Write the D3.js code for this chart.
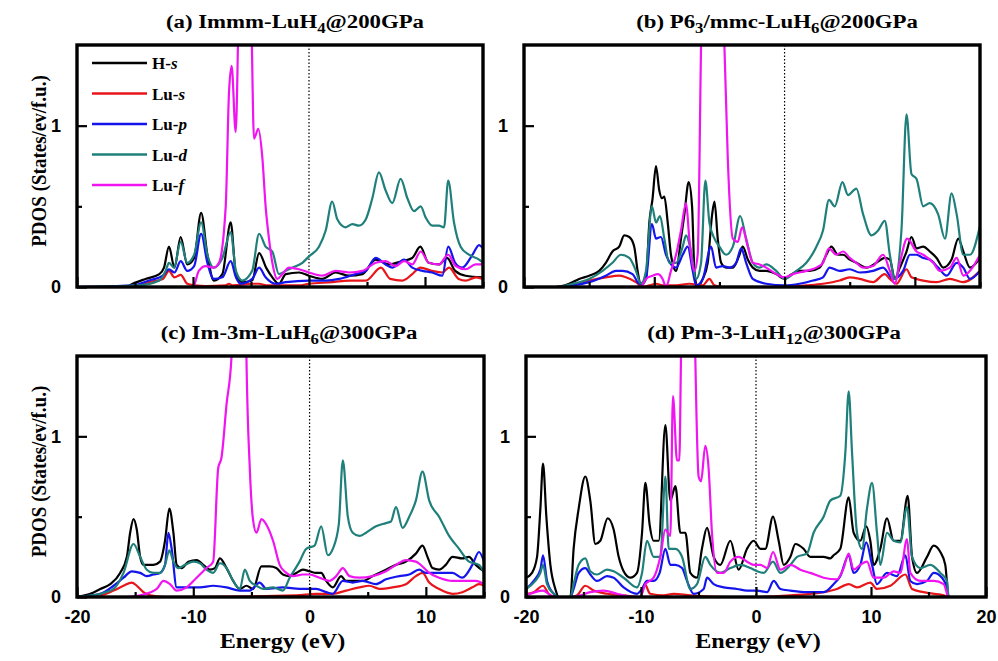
<!DOCTYPE html>
<meta charset="utf-8">
<style>

body
{
  margin: 0;
  background: #fff;
}

.frame
{
  fill: none;
  stroke: #000;
  stroke-width: 3.4px;
}

.curve
{
  fill: none;
  stroke-width: 2.2px;
  stroke-linejoin: round;
}

.fermi
{
  stroke: #000;
  stroke-width: 1.2px;
  stroke-dasharray: 1.5,2;
}

.serif
{
  font-family: "Liberation Serif", "Times New Roman", serif;
  font-weight: bold;
}

</style>
<svg width="998" height="661"></svg>
<script src="https://cdn.jsdelivr.net/npm/d3@7/dist/d3.min.js"></script>
<script>

// orbitals and their colours
var orbitals = ["H", "Lu", "Lu", "Lu", "Lu"];
var shells = ["s", "s", "p", "d", "f"];
var colors = ["#000000", "#e8161a", "#1414ec", "#1f7f7b", "#f014f0"];

var yTicks = [0, 0.5, 1];
var yLabels = ["0", "", "1"];

// (a) Immm-LuH4 @ 200 GPa  [energy eV, PDOS]
var aHs = [[-20,0],[-15.8,0],[-15.2,0.02],[-14.1,0.05],[-12.9,0.08],[-12.5,0.12],[-12.07,0.25],[-11.6,0.12],[-11.06,0.31],[-10.5,0.14],[-9.9,0.18],[-9.3,0.46],[-8.76,0.2],[-8.2,0.04],[-7.47,0.08],[-6.75,0.40],[-6.3,0.08],[-5.75,0.03],[-4.9,0.04],[-4.3,0.21],[-3.7,0.12],[-3.16,0.06],[-2.6,0.02],[-2.0,0.08],[-0.86,0.09],[0,0.07],[1.15,0.05],[2.3,0.09],[3.45,0.07],[4.6,0.08],[5.75,0.17],[6.9,0.14],[8.0,0.16],[8.9,0.18],[9.6,0.25],[10.3,0.15],[11.2,0.14],[11.9,0.18],[12.6,0.1],[13.5,0.07],[15,0.06]];
var aLus = [[-20,0],[-15.2,0],[-13.8,0.03],[-12.6,0.05],[-12.07,0.1],[-11.6,0.06],[-11.06,0.075],[-10.5,0.02],[-9.8,0.01],[-8.9,0.005],[-7.2,0.01],[-6.9,0.02],[-6.6,0.01],[-4.9,0.02],[-4.3,0.02],[-3.7,0.01],[-0.9,0.01],[0,0.02],[2.0,0.03],[3.45,0.04],[4.9,0.04],[6.2,0.12],[7.0,0.05],[8.05,0.04],[8.9,0.08],[9.6,0.12],[10.6,0.1],[11.5,0.09],[12.07,0.12],[12.9,0.05],[13.5,0.04],[14.4,0.06],[15,0.05]];
var aLup = [[-20,0],[-15.2,0.01],[-13.8,0.04],[-12.6,0.07],[-12.07,0.11],[-11.6,0.09],[-11.06,0.16],[-10.5,0.1],[-9.9,0.13],[-9.3,0.33],[-8.76,0.15],[-8.2,0.05],[-7.47,0.06],[-6.75,0.16],[-6.3,0.06],[-5.9,0.02],[-4.9,0.05],[-4.3,0.12],[-3.74,0.06],[-2.87,0.02],[-2.0,0.03],[0,0.04],[1.44,0.04],[2.6,0.05],[4.0,0.08],[4.9,0.1],[5.75,0.18],[6.6,0.14],[7.2,0.12],[8.2,0.17],[8.9,0.12],[9.8,0.1],[10.6,0.09],[11.5,0.07],[12.0,0.25],[12.6,0.15],[13.2,0.12],[14.1,0.2],[14.66,0.26],[15,0.24]];
var aLud = [[-20,0],[-14.7,0.01],[-12.9,0.04],[-12.36,0.1],[-12.07,0.15],[-11.64,0.12],[-11.06,0.28],[-10.5,0.15],[-9.9,0.2],[-9.3,0.40],[-8.76,0.2],[-8.2,0.12],[-7.47,0.18],[-6.75,0.34],[-6.3,0.1],[-5.75,0.04],[-4.9,0.1],[-4.3,0.33],[-3.74,0.25],[-3.16,0.22],[-2.6,0.08],[-2.0,0.1],[-1.44,0.12],[-0.57,0.15],[0,0.19],[0.86,0.25],[1.44,0.35],[2.0,0.53],[2.44,0.42],[3.16,0.37],[3.74,0.39],[4.3,0.38],[4.9,0.42],[5.46,0.55],[6.03,0.71],[6.6,0.6],[7.18,0.52],[7.9,0.67],[8.48,0.55],[9.05,0.47],[9.63,0.5],[10.06,0.43],[10.63,0.38],[11.2,0.38],[11.64,0.37],[12.0,0.66],[12.5,0.4],[13.07,0.25],[13.79,0.2],[14.66,0.17],[15,0.15]];
var aLuf = [[-20,0],[-10.0,0],[-9.5,0.1],[-8.9,0.13],[-8.2,0.12],[-7.76,0.15],[-7.18,0.5],[-6.9,1.2],[-6.67,1.37],[-6.32,0.96],[-6.1,1.6],[-5.9,2.5],[-5.2,2.5],[-4.95,1.6],[-4.74,0.92],[-4.37,0.98],[-4.02,0.8],[-3.74,0.5],[-3.45,0.3],[-3.16,0.15],[-2.73,0.05],[-2.3,0.08],[-1.72,0.12],[-0.86,0.11],[0,0.09],[1.15,0.07],[2.3,0.1],[3.45,0.09],[4.6,0.1],[5.75,0.15],[6.6,0.16],[7.47,0.13],[8.19,0.16],[8.9,0.14],[9.63,0.22],[10.34,0.15],[11.2,0.14],[12.0,0.2],[12.64,0.13],[13.5,0.11],[14.37,0.14],[15,0.14]];

// (b) P63/mmc-LuH6 @ 200 GPa
var bHs = [[-20,0],[-17.56,0],[-16.54,0.02],[-15.77,0.05],[-15.0,0.07],[-14.23,0.1],[-13.72,0.15],[-13.21,0.22],[-12.69,0.25],[-12.31,0.32],[-11.92,0.31],[-11.54,0.25],[-11.28,0.1],[-11.03,0.01],[-10.64,0.05],[-10.38,0.4],[-10.13,0.55],[-9.87,0.75],[-9.62,0.6],[-9.41,0.55],[-9.23,0.56],[-8.97,0.4],[-8.72,0.2],[-8.33,0.1],[-7.95,0.3],[-7.69,0.45],[-7.36,0.65],[-7.1,0.5],[-6.92,0.1],[-6.67,0],[-6.28,0.05],[-5.9,0.15],[-5.56,0.45],[-5.38,0.53],[-5.13,0.3],[-4.87,0.15],[-4.49,0.12],[-3.97,0.12],[-3.46,0.2],[-3.21,0.25],[-2.82,0.17],[-2.44,0.12],[-1.92,0.1],[-1.41,0.1],[-0.64,0.08],[0,0.05],[0.38,0.07],[1.15,0.1],[1.92,0.1],[2.69,0.12],[3.21,0.2],[3.59,0.25],[4.1,0.2],[4.49,0.2],[5.0,0.17],[5.51,0.15],[6.28,0.12],[7.05,0.15],[7.69,0.18],[8.08,0.17],[8.46,0.05],[8.85,0.12],[9.36,0.22],[9.74,0.31],[10.13,0.24],[10.64,0.25],[11.15,0.22],[11.67,0.18],[12.18,0.12],[12.82,0.17],[13.33,0.3],[13.72,0.22],[14.23,0.12],[15,0.18]];
var bLus = [[-20,0],[-17.56,0],[-16.28,0.01],[-15.0,0.04],[-13.72,0.06],[-12.69,0.07],[-12.18,0.06],[-11.41,0.03],[-10.9,0],[-10.38,0.01],[-9.87,0.02],[-9.36,0.01],[-8.33,0.01],[-7.31,0.02],[-6.28,0.01],[-5.77,0.05],[-5.38,0.01],[-4.74,0],[0,0],[1.67,0.01],[2.95,0.02],[4.23,0.04],[5.0,0.06],[5.77,0.05],[6.79,0.03],[7.69,0.08],[8.08,0.05],[8.59,0.02],[9.36,0.11],[9.74,0.06],[10.64,0.04],[11.67,0.03],[12.69,0.05],[13.72,0.03],[15,0.1]];
var bLup = [[-20,0],[-17.56,0],[-16.28,0.01],[-15.0,0.03],[-13.72,0.07],[-12.95,0.1],[-12.44,0.1],[-11.67,0.08],[-11.15,0.02],[-10.64,0.05],[-10.18,0.39],[-9.87,0.3],[-9.49,0.31],[-9.1,0.2],[-8.33,0.12],[-7.82,0.2],[-7.44,0.25],[-7.05,0.1],[-6.79,0.01],[-6.28,0.05],[-5.64,0.25],[-5.26,0.12],[-4.74,0.13],[-4.23,0.12],[-3.72,0.15],[-3.33,0.24],[-2.95,0.15],[-2.44,0.05],[-1.41,0.02],[0,0.01],[1.15,0.02],[2.18,0.04],[2.95,0.06],[3.46,0.12],[4.23,0.1],[5.0,0.11],[5.77,0.09],[6.79,0.1],[7.56,0.12],[8.33,0.05],[9.1,0.1],[9.62,0.2],[10.13,0.2],[10.64,0.18],[11.15,0.17],[11.79,0.12],[12.44,0.07],[13.21,0.15],[13.72,0.12],[14.23,0.05],[15,0.1]];
var bLud = [[-20,0],[-17.56,0],[-16.28,0.02],[-15.0,0.05],[-13.97,0.1],[-13.21,0.15],[-12.56,0.2],[-11.92,0.18],[-11.41,0.1],[-11.03,0.02],[-10.64,0.1],[-10.18,0.5],[-9.87,0.4],[-9.56,0.44],[-9.23,0.3],[-8.85,0.15],[-8.33,0.15],[-7.82,0.25],[-7.56,0.32],[-7.18,0.22],[-6.79,0.05],[-6.41,0.15],[-6.08,0.66],[-5.77,0.4],[-5.38,0.3],[-5.0,0.25],[-4.49,0.2],[-3.97,0.25],[-3.41,0.44],[-2.95,0.3],[-2.44,0.15],[-1.92,0.12],[-1.41,0.14],[-0.64,0.1],[0,0.05],[0.9,0.1],[1.67,0.15],[2.44,0.25],[2.95,0.35],[3.41,0.54],[3.85,0.5],[4.44,0.65],[4.87,0.57],[5.51,0.61],[6.03,0.45],[6.67,0.32],[7.18,0.35],[7.69,0.41],[8.08,0.2],[8.46,0.05],[8.97,0.35],[9.36,1.07],[9.74,0.7],[10.13,0.67],[10.64,0.5],[11.15,0.52],[11.79,0.45],[12.31,0.3],[12.82,0.58],[13.21,0.45],[13.72,0.2],[14.23,0.2],[15,0.38]];
var bLuf = [[-20,0],[-11.03,0],[-10.64,0.05],[-10.13,0.07],[-9.74,0.08],[-9.36,0.05],[-9.1,0],[-8.72,0.1],[-8.33,0.2],[-7.95,0.35],[-7.56,0.52],[-7.31,0.3],[-6.92,0.1],[-6.67,0.2],[-6.41,1.5],[-6.2,2.5],[-4.9,2.5],[-4.62,1.5],[-4.36,0.8],[-3.97,0.3],[-3.59,0.28],[-3.26,0.37],[-2.82,0.25],[-2.44,0.15],[-1.92,0.14],[-1.41,0.12],[-0.64,0.08],[0,0.06],[0.64,0.08],[1.67,0.1],[2.44,0.12],[2.95,0.15],[3.41,0.24],[3.97,0.2],[4.49,0.22],[5.0,0.18],[5.51,0.15],[6.03,0.12],[6.79,0.13],[7.56,0.2],[8.08,0.1],[8.46,0.02],[8.85,0.15],[9.41,0.3],[10.13,0.22],[10.64,0.2],[11.41,0.15],[11.92,0.1],[12.69,0.12],[13.21,0.18],[13.72,0.07],[14.23,0.1],[15,0.2]];

// (c) Im-3m-LuH6 @ 300 GPa
var cHs = [[-20,0],[-18.86,0.02],[-18.0,0.05],[-17.14,0.08],[-16.29,0.15],[-15.71,0.25],[-15.43,0.4],[-15.14,0.485],[-14.86,0.42],[-14.57,0.25],[-14.29,0.2],[-13.43,0.2],[-12.86,0.22],[-12.43,0.35],[-12.06,0.55],[-11.71,0.4],[-11.43,0.2],[-11.0,0.18],[-10.43,0.22],[-9.71,0.23],[-9.14,0.2],[-8.57,0.17],[-8.14,0.18],[-7.71,0.24],[-7.14,0.18],[-6.57,0.1],[-6.0,0.05],[-5.43,0.07],[-4.86,0.05],[-4.14,0.19],[-3.43,0.19],[-2.86,0.18],[-2.29,0.14],[-1.71,0.13],[-1.14,0.15],[-0.57,0.17],[0,0.16],[0.57,0.15],[1.0,0.15],[1.43,0.1],[2.0,0.06],[2.71,0.13],[3.14,0.1],[3.71,0.1],[4.57,0.1],[5.43,0.13],[6.57,0.17],[7.43,0.2],[8.29,0.22],[9.14,0.27],[9.71,0.32],[10.14,0.25],[10.57,0.18],[11.14,0.17],[11.71,0.2],[12.29,0.25],[13.14,0.24],[13.71,0.25],[14.29,0.2],[15,0.16]];
var cLus = [[-20,0],[-18.0,0.01],[-16.86,0.04],[-16.0,0.07],[-15.29,0.09],[-14.86,0.07],[-14.29,0.03],[-13.71,0.01],[-12.29,0],[-1.14,0.01],[0.57,0.02],[2.0,0.02],[3.14,0.04],[4.29,0.06],[5.14,0.07],[6.0,0.05],[7.14,0.06],[8.29,0.08],[9.14,0.13],[9.71,0.15],[10.29,0.09],[11.14,0.05],[12.29,0.02],[13.14,0.03],[14.0,0.06],[14.57,0.08],[15,0.07]];
var cLup = [[-20,0],[-18.0,0.02],[-16.86,0.07],[-16.0,0.12],[-15.29,0.16],[-14.57,0.15],[-14.0,0.13],[-13.43,0.14],[-12.86,0.15],[-12.43,0.2],[-12.14,0.4],[-11.86,0.3],[-11.43,0.06],[-10.57,0.06],[-9.43,0.06],[-8.29,0.07],[-7.14,0.06],[-6.0,0.04],[-5.14,0.04],[-4.29,0.09],[-3.71,0.05],[-2.29,0.06],[-0.86,0.05],[0.57,0.05],[1.43,0.03],[2.0,0.02],[2.86,0.1],[3.71,0.09],[4.57,0.1],[5.71,0.08],[6.57,0.11],[7.71,0.13],[8.57,0.14],[9.43,0.17],[10.0,0.15],[10.57,0.15],[11.43,0.15],[12.29,0.15],[13.14,0.12],[14.0,0.2],[14.57,0.28],[15,0.22]];
var cLud = [[-20,0],[-18.0,0.02],[-16.86,0.05],[-16.0,0.15],[-15.14,0.33],[-14.57,0.25],[-14.0,0.17],[-13.43,0.15],[-12.86,0.15],[-12.43,0.2],[-12.06,0.29],[-11.71,0.22],[-11.29,0.18],[-10.71,0.2],[-10.0,0.22],[-9.43,0.21],[-8.86,0.17],[-8.29,0.15],[-7.71,0.21],[-7.14,0.18],[-6.57,0.1],[-6.0,0.05],[-5.57,0.17],[-5.14,0.1],[-4.57,0.07],[-4.0,0.05],[-3.14,0.06],[-2.29,0.04],[-1.71,0.12],[-0.86,0.22],[-0.29,0.3],[0.43,0.32],[1.0,0.44],[1.57,0.26],[2.0,0.3],[2.51,0.45],[2.86,0.85],[3.29,0.5],[3.71,0.4],[4.29,0.38],[4.86,0.4],[5.71,0.44],[6.57,0.46],[7.0,0.47],[7.43,0.56],[8.0,0.43],[8.57,0.5],[9.14,0.6],[9.71,0.78],[10.29,0.6],[11.14,0.5],[12.0,0.38],[12.86,0.3],[13.71,0.22],[14.57,0.2],[15,0.15]];
var cLuf = [[-20,0],[-15.71,0],[-14.57,0.01],[-13.14,0.05],[-12.57,0.1],[-12.0,0.08],[-11.43,0.04],[-10.57,0.06],[-9.71,0.12],[-8.86,0.18],[-8.29,0.22],[-7.86,0.8],[-7.57,0.87],[-7.14,1.2],[-6.71,1.5],[-6.5,2.5],[-5.6,2.5],[-5.43,1.5],[-5.14,0.8],[-4.86,0.48],[-4.57,0.4],[-4.14,0.485],[-3.71,0.45],[-3.14,0.35],[-2.57,0.2],[-2.0,0.15],[-1.43,0.13],[-0.57,0.14],[0,0.14],[0.86,0.12],[1.71,0.1],[2.29,0.13],[2.86,0.18],[3.43,0.13],[4.29,0.12],[5.43,0.13],[6.57,0.16],[7.43,0.2],[8.29,0.23],[9.14,0.22],[9.71,0.19],[10.29,0.15],[11.14,0.12],[12.29,0.1],[13.43,0.1],[14.29,0.1],[15,0.08]];

// (d) Pm-3-LuH12 @ 300 GPa
var dHs = [[-20,0.12],[-19.48,0.15],[-19.04,0.25],[-18.75,0.55],[-18.52,0.83],[-18.23,0.5],[-17.88,0.2],[-17.45,0.05],[-17.16,0],[-16.14,0],[-15.86,0.3],[-15.42,0.55],[-14.84,0.75],[-14.41,0.6],[-13.97,0.33],[-13.54,0.35],[-12.9,0.49],[-12.38,0.42],[-11.94,0.25],[-11.51,0.16],[-10.93,0.12],[-10.35,0.15],[-9.91,0.4],[-9.62,0.71],[-9.25,0.45],[-8.9,0.35],[-8.46,0.35],[-7.88,1.07],[-7.45,0.6],[-7.01,0.69],[-6.58,0.4],[-6.14,0.4],[-5.71,0.15],[-5.13,0.12],[-4.7,0.3],[-4.26,0.43],[-3.68,0.25],[-3.1,0.2],[-2.23,0.35],[-1.51,0.17],[-0.78,0.3],[-0.2,0.35],[0.38,0.3],[0.81,0.3],[1.48,0.5],[1.97,0.35],[2.41,0.2],[2.99,0.25],[3.42,0.33],[4.14,0.3],[4.72,0.25],[5.88,0.25],[6.46,0.24],[6.75,0.26],[7.33,0.3],[8.06,0.62],[8.49,0.4],[9.07,0.35],[9.59,0.44],[9.94,0.35],[10.23,0.2],[10.81,0.3],[11.39,0.49],[11.97,0.35],[12.55,0.35],[13.19,0.63],[13.57,0.25],[14.0,0.15],[14.87,0.25],[15.45,0.32],[16.03,0.28],[16.46,0.2],[16.75,0],[20,0]];
var dLus = [[-20,0.02],[-19.33,0.03],[-18.52,0.07],[-18.03,0.02],[-17.45,0],[-16.14,0],[-15.57,0.01],[-14.84,0.07],[-14.12,0.04],[-12.96,0.02],[-11.51,0.01],[-10.06,0],[-9.68,0.08],[-9.2,0.02],[-8.03,0.01],[-7.16,0.02],[-5.71,0.01],[-2.81,0],[0.09,0],[2.99,0.01],[5.88,0.03],[7.04,0.05],[8.06,0.08],[8.78,0.06],[9.94,0.09],[10.52,0.05],[11.68,0.07],[12.99,0.14],[13.57,0.05],[14.58,0.03],[16.32,0.01],[16.75,0],[20,0]];
var dLup = [[-20,0.05],[-19.33,0.1],[-18.75,0.17],[-18.52,0.26],[-18.17,0.1],[-17.59,0.02],[-17.16,0],[-16.14,0],[-15.86,0.05],[-15.42,0.15],[-14.84,0.18],[-14.41,0.14],[-13.83,0.1],[-12.96,0.13],[-12.38,0.12],[-11.51,0.06],[-10.35,0.02],[-9.91,0.05],[-9.48,0.1],[-8.9,0.1],[-8.38,0.15],[-7.88,0.3],[-7.45,0.2],[-7.01,0.2],[-6.43,0.18],[-6.0,0.1],[-5.42,0.02],[-4.55,0.05],[-4.26,0.12],[-3.68,0.08],[-2.81,0.06],[-1.65,0.05],[-0.78,0.04],[0.09,0.04],[0.96,0.03],[1.54,0.1],[2.12,0.05],[2.99,0.04],[4.43,0.03],[5.88,0.03],[6.75,0.08],[7.33,0.13],[8.06,0.26],[8.49,0.15],[9.07,0.2],[9.59,0.34],[10.09,0.2],[10.52,0.08],[11.39,0.15],[12.26,0.13],[12.99,0.26],[13.42,0.1],[14.0,0.08],[14.87,0.1],[15.45,0.15],[16.17,0.12],[16.61,0.05],[16.75,0],[20,0]];
var dLud = [[-20,0.05],[-19.19,0.1],[-18.75,0.15],[-18.52,0.2],[-18.17,0.08],[-17.59,0.02],[-17.16,0],[-16.14,0],[-15.86,0.08],[-15.42,0.2],[-14.84,0.24],[-14.41,0.16],[-13.83,0.14],[-12.96,0.17],[-12.38,0.16],[-11.51,0.12],[-10.35,0.06],[-9.91,0.15],[-9.48,0.35],[-8.9,0.25],[-8.32,0.25],[-7.88,0.75],[-7.59,0.3],[-7.01,0.3],[-6.43,0.25],[-5.71,0.05],[-5.13,0.08],[-4.41,0.25],[-3.97,0.2],[-3.1,0.15],[-2.23,0.18],[-1.36,0.2],[-0.49,0.18],[0.09,0.16],[0.67,0.15],[1.48,0.22],[2.12,0.15],[2.99,0.2],[3.57,0.25],[4.43,0.27],[5.01,0.4],[5.88,0.5],[6.46,0.6],[7.33,0.63],[7.77,0.9],[8.06,1.28],[8.35,0.9],[8.78,0.4],[9.22,0.3],[9.65,0.55],[10.09,0.71],[10.52,0.4],[10.81,0.2],[11.39,0.4],[11.97,0.35],[12.55,0.34],[13.13,0.56],[13.57,0.25],[14.29,0.18],[15.16,0.2],[16.03,0.15],[16.61,0.1],[16.75,0],[20,0]];
var dLuf = [[-20,0.01],[-18.52,0.04],[-17.59,0],[-16.14,0],[-15.28,0.01],[-14.41,0.03],[-13.25,0.04],[-12.09,0.02],[-10.64,0],[-10.06,0],[-9.62,0.08],[-8.9,0.12],[-8.32,0.25],[-7.88,0.42],[-7.45,0.38],[-7.22,1.25],[-6.87,0.85],[-6.67,0.85],[-6.52,1.5],[-6.3,2.5],[-5.5,2.5],[-5.28,1.5],[-4.99,0.75],[-4.78,0.72],[-4.41,0.94],[-4.12,0.8],[-3.83,0.4],[-3.39,0.15],[-2.81,0.15],[-2.23,0.22],[-1.51,0.25],[-0.78,0.22],[-0.2,0.2],[0.38,0.2],[0.96,0.18],[1.48,0.28],[2.12,0.17],[2.99,0.2],[3.86,0.17],[4.72,0.15],[5.88,0.12],[7.04,0.11],[7.62,0.18],[8.06,0.27],[8.49,0.17],[9.07,0.2],[9.65,0.22],[10.23,0.12],[11.1,0.12],[11.97,0.16],[12.55,0.15],[13.13,0.36],[13.42,0.15],[14.29,0.1],[15.45,0.1],[16.32,0.08],[16.75,0],[20,0]];

var panels = [
  { title: [["(a) Immm-LuH"], ["4", 1], ["@200GPa"]], xmax: 15, lines: [aHs, aLus, aLup, aLud, aLuf],
    x0: 77, x1: 483, y0: 45, y1: 287, tx: 295, ty: 28, left: true, bottom: false, legend: true },
  { title: [["(b) P6"], ["3", 1], ["/mmc-LuH"], ["6", 1], ["@200GPa"]], xmax: 15, lines: [bHs, bLus, bLup, bLud, bLuf],
    x0: 524, x1: 980, y0: 45, y1: 287, tx: 777, ty: 28, left: false, bottom: false },
  { title: [["(c) Im-3m-LuH"], ["6", 1], ["@300GPa"]], xmax: 15, lines: [cHs, cLus, cLup, cLud, cLuf],
    x0: 77, x1: 484, y0: 356, y1: 597, tx: 289, ty: 339, left: true, bottom: true },
  { title: [["(d) Pm-3-LuH"], ["12", 1], ["@300GPa"]], xmax: 20, lines: [dHs, dLus, dLup, dLud, dLuf],
    x0: 526, x1: 986, y0: 356, y1: 597, tx: 774, ty: 339, left: false, bottom: true }
];

var svg = d3.select("svg");

panels.forEach(function(p, k) {
  var x = d3.scaleLinear().domain([-20, p.xmax]).range([p.x0, p.x1]);
  var y = d3.scaleLinear().domain([0, 1.5]).range([p.y1, p.y0]);

  var g = svg.append("g");

  g.append("clipPath")
      .attr("id", "clip" + k)
    .append("rect")
      .attr("x", p.x0).attr("y", p.y0)
      .attr("width", p.x1 - p.x0).attr("height", p.y1 - p.y0);

  // fermi level
  g.append("line")
      .attr("class", "fermi")
      .attr("x1", x(0)).attr("x2", x(0))
      .attr("y1", p.y0).attr("y2", p.y1);

  var line = d3.line()
      .curve(d3.curveMonotoneX)
      .x(function(d) { return x(d[0]); })
      .y(function(d) { return y(d[1]); });

  g.append("g")
      .attr("clip-path", "url(#clip" + k + ")")
    .selectAll("path")
    .data(p.lines)
    .enter().append("path")
      .attr("class", "curve")
      .attr("stroke", function(d, i) { return colors[i]; })
      .attr("d", line);

  // x ticks (inward), labels only on bottom row
  var xMajor = d3.range(-20, p.xmax + 0.1, 10);
  var xMinor = d3.range(-15, p.xmax + 0.1, 10);
  var ax = g.append("g")
      .attr("transform", "translate(0," + p.y1 + ")")
      .call(d3.axisBottom(x).tickValues(xMajor).tickSizeInner(-10).tickSizeOuter(0).tickPadding(13)
        .tickFormat(function(d) { return p.bottom ? d : ""; }));
  ax.append("g").call(d3.axisBottom(x).tickValues(xMinor).tickSizeInner(-5).tickSizeOuter(0).tickFormat(""));

  var ay = g.append("g")
      .attr("transform", "translate(" + p.x0 + ",0)")
      .call(d3.axisLeft(y).tickValues(yTicks).tickSizeOuter(0).tickPadding(10)
        .tickFormat(function(d, i) { return yLabels[i]; }));
  ay.selectAll(".tick line").attr("x2", function(d) { return d === 0.5 ? 5 : 10; });

  [ax, ay].forEach(function(a) {
    a.selectAll(".domain").remove();
    a.selectAll(".tick line").attr("stroke-width", 2.2);
    a.attr("font-size", 18).attr("font-weight", "bold")
     .attr("font-family", "'Liberation Sans', Arial, sans-serif");
    a.selectAll("text").attr("fill", "#000");
  });

  g.append("rect")
      .attr("class", "frame")
      .attr("x", p.x0).attr("y", p.y0)
      .attr("width", p.x1 - p.x0).attr("height", p.y1 - p.y0);

  // title with subscripts, a little stretched sideways like the original
  var t = g.append("text")
      .attr("class", "serif")
      .attr("font-size", 19)
      .attr("text-anchor", "middle")
      .attr("transform", "translate(" + p.tx + "," + p.ty + ") scale(1.2,1)");
  var shift = 0;
  p.title.forEach(function(part) {
    var dy = part[1] ? 5 - shift : -shift;
    shift = part[1] ? 5 : 0;
    t.append("tspan")
        .attr("dy", dy)
        .attr("font-size", part[1] ? 14 : 19)
        .text(part[0]);
  });

  if (p.left) {
    g.append("text")
        .attr("class", "serif")
        .attr("font-size", 19)
        .attr("text-anchor", "middle")
        .attr("transform", "translate(46," + ((p.y0 + p.y1) / 2 - 5) + ") rotate(-90) scale(1,1.15)")
        .text("PDOS (States/ev/f.u.)");
  }

  if (p.bottom) {
    g.append("text")
        .attr("class", "serif")
        .attr("font-size", 22)
        .attr("text-anchor", "middle")
        .attr("transform", "translate(" + ((p.x0 + p.x1) / 2 + 2) + ",648) scale(1.1,1)")
        .text("Energy (eV)");
  }

  if (p.legend) {
    var lg = g.append("g").selectAll("g")
        .data(orbitals)
        .enter().append("g")
          .attr("transform", function(d, i) { return "translate(92," + (63 + i * 30.5) + ")"; });
    lg.append("line")
        .attr("x1", 0).attr("x2", 55)
        .attr("stroke", function(d, i) { return colors[i]; })
        .attr("stroke-width", 2.5);
    var lt = lg.append("text")
        .attr("class", "serif")
        .attr("font-size", 17)
        .attr("x", 60).attr("y", 6);
    lt.append("tspan").text(function(d) { return d + "-"; });
    lt.append("tspan").attr("font-style", "italic").text(function(d, i) { return shells[i]; });
  }
});

</script>
